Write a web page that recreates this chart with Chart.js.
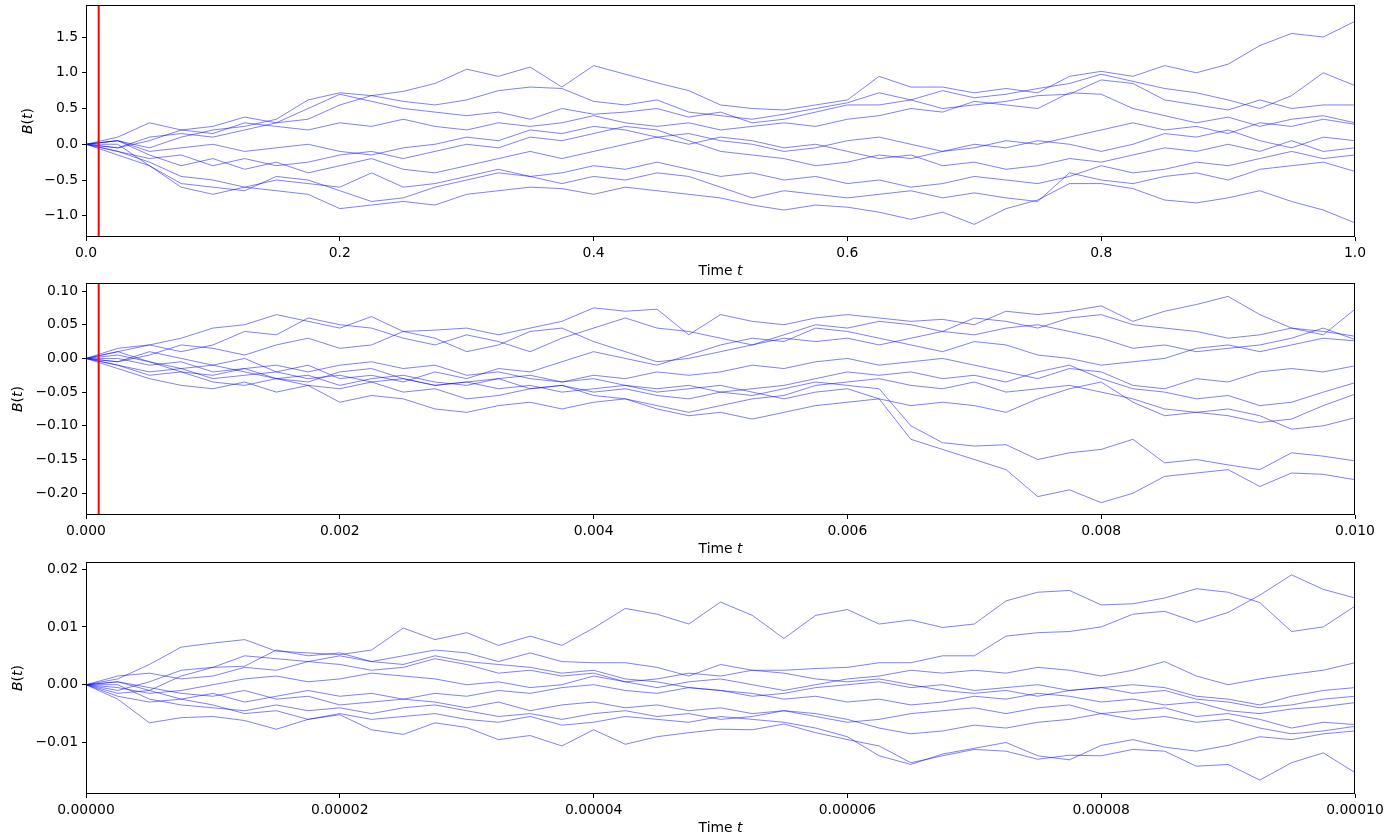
<!DOCTYPE html>
<html>
<head>
<meta charset="utf-8">
<script src="https://cdn.jsdelivr.net/npm/chart.js@4.4.1/dist/chart.umd.min.js"></script>
<style>
  html, body { margin: 0; padding: 0; background: #fff; }
  #wrap { position: relative; width: 1389px; height: 838px; overflow: hidden; }
  canvas { position: absolute; left: 0; }
</style>
</head>
<body>
<div id="wrap">
  <canvas id="c1" width="1389" height="278" style="top:0px"></canvas>
  <canvas id="c2" width="1389" height="278" style="top:278px"></canvas>
  <canvas id="c3" width="1389" height="282" style="top:556px"></canvas>
</div>
<script>
/* Brownian paths at three zoom levels: 0..1, 0..0.01, 0..0.0001 */

// sample positions as a fraction of each panel's time span
const T_FRAC = [0, 0.025, 0.05, 0.075, 0.1, 0.125, 0.15, 0.175, 0.2, 0.225, 0.25, 0.275, 0.3, 0.325, 0.35, 0.375, 0.4,
  0.425, 0.45, 0.475, 0.5, 0.525, 0.55, 0.575, 0.6, 0.625, 0.65, 0.675, 0.7, 0.725, 0.75, 0.775, 0.8, 0.825, 0.85,
  0.875, 0.9, 0.925, 0.95, 0.975, 1.0];

// panel 1: t in [0, 1]
const PATHS_1 = [
  [0, 0.05, -0.05, 0.1, 0.2, 0.25, 0.35, 0.62, 0.72, 0.68, 0.74, 0.85, 1.05, 0.95, 1.08, 0.8, 1.1, 0.98, 0.86, 0.75, 0.55, 0.5, 0.48, 0.55, 0.62, 0.95, 0.8, 0.8, 0.72, 0.78, 0.72, 0.95, 1.02, 0.95, 1.1, 1.0, 1.12, 1.38, 1.55, 1.5, 1.72],
  [0, -0.05, 0.1, 0.15, 0.1, 0.2, 0.3, 0.35, 0.55, 0.68, 0.6, 0.55, 0.62, 0.75, 0.8, 0.78, 0.6, 0.55, 0.62, 0.45, 0.4, 0.35, 0.42, 0.5, 0.58, 0.72, 0.62, 0.75, 0.65, 0.7, 0.78, 0.85, 0.98, 0.88, 0.78, 0.72, 0.62, 0.5, 0.68, 1.0, 0.82],
  [0, 0.1, 0.3, 0.2, 0.25, 0.38, 0.3, 0.5, 0.7, 0.6, 0.5, 0.45, 0.4, 0.45, 0.35, 0.5, 0.42, 0.45, 0.5, 0.38, 0.45, 0.3, 0.35, 0.45, 0.55, 0.55, 0.62, 0.5, 0.55, 0.6, 0.68, 0.7, 0.9, 0.85, 0.62, 0.55, 0.48, 0.62, 0.5, 0.55, 0.55],
  [0, -0.05, 0.05, 0.2, 0.15, 0.3, 0.25, 0.2, 0.3, 0.25, 0.35, 0.25, 0.2, 0.3, 0.25, 0.3, 0.4, 0.3, 0.25, 0.3, 0.2, 0.25, 0.3, 0.25, 0.35, 0.4, 0.5, 0.45, 0.6, 0.55, 0.5, 0.72, 0.7, 0.5, 0.4, 0.3, 0.38, 0.25, 0.35, 0.4, 0.3],
  [0, 0.05, -0.1, -0.05, 0, -0.1, -0.05, 0, -0.1, -0.15, -0.05, 0, 0.1, 0.05, 0.2, 0.15, 0.25, 0.2, 0.1, 0.15, 0.05, 0, -0.1, -0.05, 0.05, 0.1, 0, -0.1, -0.05, 0.05, 0, 0.1, 0.2, 0.3, 0.2, 0.25, 0.15, 0.3, 0.25, 0.35, 0.28],
  [0, -0.1, -0.2, -0.15, -0.3, -0.2, -0.3, -0.25, -0.15, -0.1, -0.2, -0.1, 0, -0.05, 0.1, 0.05, 0.15, 0.25, 0.2, 0.05, -0.1, -0.15, -0.2, -0.3, -0.25, -0.15, -0.2, -0.1, 0, -0.05, 0.05, 0, -0.1, 0, 0.15, 0.1, 0.2, 0.05, -0.05, 0.1, 0.05],
  [0, 0.05, -0.15, -0.3, -0.2, -0.35, -0.25, -0.4, -0.3, -0.2, -0.35, -0.4, -0.3, -0.2, -0.1, -0.2, -0.1, 0, 0.1, 0, 0.1, 0.05, -0.05, 0, -0.1, -0.2, -0.15, -0.3, -0.25, -0.35, -0.3, -0.2, -0.25, -0.15, -0.05, -0.1, 0, -0.1, 0.05, -0.1, -0.05],
  [0, -0.1, -0.25, -0.45, -0.5, -0.6, -0.5, -0.55, -0.6, -0.4, -0.6, -0.55, -0.45, -0.35, -0.45, -0.4, -0.3, -0.35, -0.25, -0.35, -0.45, -0.4, -0.5, -0.45, -0.55, -0.5, -0.6, -0.55, -0.45, -0.5, -0.55, -0.45, -0.3, -0.4, -0.35, -0.25, -0.3, -0.2, -0.1, -0.2, -0.15],
  [0, 0, -0.3, -0.55, -0.6, -0.65, -0.45, -0.5, -0.65, -0.8, -0.75, -0.6, -0.5, -0.4, -0.45, -0.55, -0.45, -0.5, -0.4, -0.45, -0.6, -0.75, -0.65, -0.7, -0.75, -0.7, -0.65, -0.75, -0.68, -0.75, -0.8, -0.4, -0.5, -0.55, -0.45, -0.4, -0.5, -0.35, -0.3, -0.25, -0.38],
  [0, -0.15, -0.3, -0.6, -0.7, -0.6, -0.65, -0.7, -0.9, -0.85, -0.8, -0.85, -0.7, -0.65, -0.6, -0.62, -0.7, -0.6, -0.65, -0.7, -0.75, -0.85, -0.92, -0.85, -0.88, -0.95, -1.05, -0.95, -1.12, -0.9, -0.78, -0.55, -0.55, -0.62, -0.78, -0.82, -0.75, -0.65, -0.8, -0.92, -1.1],
];

// panel 2: t in [0, 0.01]
const PATHS_2 = [
  [0, 0.01, 0.02, 0.03, 0.045, 0.05, 0.065, 0.055, 0.045, 0.062, 0.04, 0.042, 0.045, 0.035, 0.045, 0.055, 0.075, 0.07, 0.073, 0.035, 0.065, 0.055, 0.05, 0.06, 0.065, 0.06, 0.055, 0.058, 0.05, 0.07, 0.065, 0.07, 0.078, 0.055, 0.07, 0.08, 0.092, 0.065, 0.045, 0.035, 0.073],
  [0, 0.015, 0.02, 0.01, 0.02, 0.04, 0.035, 0.06, 0.05, 0.045, 0.03, 0.02, 0.035, 0.025, 0.01, 0.03, 0.045, 0.06, 0.045, 0.04, 0.03, 0.02, 0.035, 0.05, 0.045, 0.055, 0.05, 0.04, 0.06, 0.055, 0.045, 0.06, 0.065, 0.05, 0.045, 0.04, 0.03, 0.035, 0.045, 0.04, 0.033],
  [0, -0.005, 0.005, 0.02, 0.015, 0.005, 0.02, 0.03, 0.015, 0.02, 0.04, 0.03, 0.01, 0.02, 0.04, 0.045, 0.025, 0.01, -0.005, 0, 0.01, 0.02, 0.03, 0.025, 0.03, 0.02, 0.03, 0.04, 0.035, 0.045, 0.05, 0.04, 0.03, 0.015, 0.02, 0.01, 0.015, 0.02, 0.03, 0.045, 0.028],
  [0, 0.01, -0.005, -0.015, -0.01, 0, -0.02, -0.01, -0.03, -0.025, -0.035, -0.02, -0.03, -0.015, -0.02, -0.005, 0.01, 0, -0.01, 0.005, 0.02, 0.03, 0.025, 0.045, 0.04, 0.03, 0.02, 0.01, 0.025, 0.02, 0.005, 0, -0.01, -0.005, 0, 0.015, 0.02, 0.01, 0.02, 0.03, 0.026],
  [0, 0, -0.01, -0.005, -0.02, -0.015, -0.01, -0.02, -0.01, -0.005, -0.015, -0.01, -0.025, -0.02, -0.03, -0.035, -0.025, -0.03, -0.02, -0.025, -0.02, -0.01, -0.015, -0.005, 0, -0.01, -0.005, 0, -0.01, -0.02, -0.03, -0.015, -0.02, -0.04, -0.045, -0.03, -0.035, -0.02, -0.015, -0.02, -0.011],
  [0, -0.01, -0.02, -0.015, -0.03, -0.025, -0.02, -0.03, -0.025, -0.035, -0.03, -0.04, -0.035, -0.03, -0.045, -0.04, -0.05, -0.045, -0.055, -0.06, -0.05, -0.045, -0.04, -0.03, -0.02, -0.025, -0.02, -0.03, -0.025, -0.035, -0.02, -0.01, -0.03, -0.045, -0.05, -0.06, -0.055, -0.07, -0.065, -0.05, -0.036],
  [0, -0.005, 0.01, 0, -0.01, -0.02, -0.03, -0.04, -0.045, -0.035, -0.05, -0.045, -0.06, -0.055, -0.045, -0.04, -0.055, -0.06, -0.07, -0.08, -0.07, -0.06, -0.055, -0.04, -0.035, -0.03, -0.04, -0.045, -0.035, -0.05, -0.045, -0.04, -0.05, -0.06, -0.075, -0.08, -0.085, -0.095, -0.09, -0.07, -0.053],
  [0, -0.015, -0.03, -0.04, -0.045, -0.035, -0.05, -0.04, -0.065, -0.055, -0.06, -0.075, -0.08, -0.07, -0.065, -0.075, -0.065, -0.06, -0.075, -0.085, -0.08, -0.09, -0.08, -0.07, -0.065, -0.06, -0.07, -0.065, -0.07, -0.08, -0.06, -0.045, -0.035, -0.065, -0.085, -0.08, -0.075, -0.085, -0.105, -0.1, -0.088],
  [0, 0.005, -0.005, -0.02, -0.025, -0.015, -0.03, -0.025, -0.04, -0.03, -0.025, -0.035, -0.04, -0.03, -0.025, -0.035, -0.03, -0.04, -0.045, -0.04, -0.05, -0.055, -0.045, -0.035, -0.04, -0.045, -0.1, -0.125, -0.13, -0.128, -0.15, -0.14, -0.135, -0.12, -0.155, -0.15, -0.158, -0.165, -0.14, -0.145, -0.152],
  [0, -0.01, -0.025, -0.02, -0.035, -0.04, -0.03, -0.035, -0.02, -0.015, -0.03, -0.04, -0.035, -0.045, -0.04, -0.05, -0.045, -0.04, -0.05, -0.045, -0.04, -0.05, -0.06, -0.05, -0.045, -0.06, -0.12, -0.135, -0.15, -0.165, -0.205, -0.195, -0.214, -0.2, -0.175, -0.17, -0.165, -0.19, -0.17, -0.172, -0.18],
];

// panel 3: t in [0, 0.0001]
const PATHS_3 = [
  [0, 0.001, 0.0035, 0.0065, 0.0072, 0.0078, 0.0058, 0.0055, 0.0052, 0.006, 0.0098, 0.0078, 0.009, 0.0068, 0.0084, 0.0068, 0.0098, 0.0132, 0.0122, 0.0105, 0.0143, 0.012, 0.008, 0.012, 0.013, 0.0105, 0.0112, 0.0099, 0.0105, 0.0145, 0.016, 0.0163, 0.0138, 0.014, 0.015, 0.0166, 0.016, 0.0142, 0.0092, 0.01, 0.0136],
  [0, 0.0005, -0.001, 0.0015, 0.003, 0.0032, 0.006, 0.005, 0.0055, 0.004, 0.005, 0.006, 0.0055, 0.004, 0.0055, 0.004, 0.0038, 0.0038, 0.003, 0.0015, 0.0035, 0.0025, 0.0025, 0.0028, 0.003, 0.0038, 0.0038, 0.005, 0.005, 0.0084, 0.009, 0.0092, 0.01, 0.0122, 0.0127, 0.0108, 0.0125, 0.0155, 0.019, 0.0165, 0.015],
  [0, 0.0015, 0.002, 0.001, 0.0015, 0.003, 0.0025, 0.004, 0.0035, 0.0025, 0.003, 0.0045, 0.0035, 0.002, 0.0025, 0.0015, 0.002, 0.0005, -0.0005, 0.0005, 0.001, 0, -0.001, 0, 0.001, 0.0015, 0.0025, 0.002, 0.0025, 0.002, 0.003, 0.0025, 0.0015, 0.0025, 0.004, 0.0015, 0, 0.001, 0.0018, 0.0025, 0.0038],
  [0, -0.001, 0.0005, 0.0025, 0.003, 0.005, 0.0045, 0.004, 0.005, 0.004, 0.0035, 0.005, 0.004, 0.0035, 0.003, 0.002, 0.0025, 0.001, 0.0005, -0.0005, -0.001, -0.002, -0.0015, -0.0005, 0, 0.0005, -0.0005, 0, -0.001, -0.0005, 0, -0.001, -0.0005, 0, -0.0005, -0.002, -0.0025, -0.0035, -0.002, -0.001, -0.0005],
  [0, -0.0005, -0.0015, -0.001, 0, 0.001, 0.0015, 0.0005, 0.001, 0.002, 0.0015, 0.001, 0, 0.0005, -0.0005, 0, 0.0015, 0.0005, 0.001, 0.002, 0.0015, 0.0025, 0.002, 0.001, 0.0005, 0.001, 0, -0.001, -0.0015, -0.001, -0.002, -0.001, -0.0005, -0.0015, -0.001, -0.0025, -0.003, -0.004, -0.0035, -0.0025, -0.002],
  [0, 0.0005, -0.0005, -0.0015, -0.002, -0.001, -0.0025, -0.002, -0.0035, -0.003, -0.0025, -0.0015, -0.002, -0.001, -0.0015, -0.0005, 0, -0.001, -0.0015, -0.0005, -0.001, -0.0015, -0.0025, -0.002, -0.003, -0.0025, -0.0035, -0.003, -0.002, -0.0025, -0.0015, -0.002, -0.003, -0.0025, -0.0035, -0.003, -0.0045, -0.005, -0.0042, -0.0038, -0.0031],
  [0, -0.0015, -0.001, -0.0025, -0.0015, -0.003, -0.002, -0.001, -0.002, -0.0015, -0.0025, -0.003, -0.004, -0.003, -0.0045, -0.0035, -0.003, -0.004, -0.0035, -0.0045, -0.004, -0.005, -0.0045, -0.0055, -0.0065, -0.006, -0.005, -0.0045, -0.004, -0.005, -0.004, -0.0035, -0.005, -0.0045, -0.004, -0.0055, -0.005, -0.006, -0.0075, -0.0065, -0.0069],
  [0, 0, -0.0025, -0.0035, -0.004, -0.0045, -0.0035, -0.0045, -0.004, -0.005, -0.004, -0.0035, -0.0045, -0.0055, -0.005, -0.006, -0.005, -0.0045, -0.0055, -0.005, -0.006, -0.0055, -0.0045, -0.005, -0.006, -0.0075, -0.0085, -0.008, -0.007, -0.0075, -0.0065, -0.006, -0.005, -0.006, -0.0055, -0.0065, -0.006, -0.0075, -0.0085, -0.008, -0.0072],
  [0, -0.002, -0.003, -0.0025, -0.0035, -0.005, -0.0045, -0.006, -0.005, -0.006, -0.0055, -0.005, -0.006, -0.0065, -0.0055, -0.007, -0.0065, -0.0055, -0.006, -0.0065, -0.0055, -0.006, -0.0065, -0.0075, -0.009, -0.0123, -0.0138, -0.012, -0.011, -0.01, -0.0123, -0.013, -0.0105, -0.0095, -0.0108, -0.0115, -0.0105, -0.009, -0.0095, -0.0085, -0.008],
  [0, -0.0025, -0.0066, -0.0057, -0.0055, -0.0062, -0.0077, -0.006, -0.0052, -0.0078, -0.0086, -0.0066, -0.0074, -0.0095, -0.0088, -0.0106, -0.0078, -0.0103, -0.009, -0.0083, -0.0077, -0.0078, -0.0068, -0.0083, -0.0095, -0.0106, -0.0135, -0.0123, -0.0112, -0.0115, -0.0129, -0.0122, -0.0123, -0.0112, -0.0115, -0.0141, -0.0138, -0.0165, -0.0135, -0.0118, -0.0152],
];

const SPANS = [1.0, 0.01, 0.0001];
const Y_RANGES = [[-1.297, 1.948], [-0.2323, 0.1119], [-0.01891, 0.02123]];
const MARKERS = [0.01, 0.0001, null];     // red line = span of the next panel

const X_TICKS = [
  [0, 0.2, 0.4, 0.6, 0.8, 1.0],
  [0, 0.002, 0.004, 0.006, 0.008, 0.010],
  [0, 0.00002, 0.00004, 0.00006, 0.00008, 0.0001],
];
const X_LABELS = [
  ["0.0", "0.2", "0.4", "0.6", "0.8", "1.0"],
  ["0.000", "0.002", "0.004", "0.006", "0.008", "0.010"],
  ["0.00000", "0.00002", "0.00004", "0.00006", "0.00008", "0.00010"],
];
const Y_TICKS = [
  [-1.0, -0.5, 0, 0.5, 1.0, 1.5],
  [-0.20, -0.15, -0.10, -0.05, 0, 0.05, 0.10],
  [-0.01, 0, 0.01, 0.02],
];
const Y_LABELS = [
  ["\u22121.0", "\u22120.5", "0.0", "0.5", "1.0", "1.5"],
  ["\u22120.20", "\u22120.15", "\u22120.10", "\u22120.05", "0.00", "0.05", "0.10"],
  ["\u22120.01", "0.00", "0.01", "0.02"],
];

const FONT_FAMILY = '"DejaVu Sans", "Liberation Sans", sans-serif';
const FONT_PX = 13.9;
const PLOT_H = 232;
const LAYOUT = [            // canvas id, canvas height, top padding, y-title x
  { id: "c1", h: 278, top: 5, yTitleX: 28 },
  { id: "c2", h: 278, top: 5, yTitleX: 18 },
  { id: "c3", h: 282, top: 6, yTitleX: 18 },
];

// draws mixed upright/italic text centred on (cx, cy)
function drawPieces(ctx, pieces, cx, cy) {
  const fontFor = (it) => `${it ? "italic " : ""}${FONT_PX}px ${FONT_FAMILY}`;
  let total = 0;
  pieces.forEach(([s, it]) => { ctx.font = fontFor(it); total += ctx.measureText(s).width; });
  let x = cx - total / 2;
  ctx.textBaseline = "middle";
  ctx.textAlign = "left";
  pieces.forEach(([s, it]) => { ctx.font = fontFor(it); ctx.fillText(s, x, cy); x += ctx.measureText(s).width; });
}

const panelDeco = {
  id: "panelDeco",
  afterDatasetsDraw(chart, args, o) {
    if (o.marker == null) return;
    const { ctx, chartArea: a } = chart;
    const px = chart.scales.x.getPixelForValue(o.marker);
    ctx.save();
    ctx.strokeStyle = "#ff0000";
    ctx.lineWidth = 2;
    ctx.beginPath(); ctx.moveTo(px, a.top); ctx.lineTo(px, a.bottom); ctx.stroke();
    ctx.restore();
  },
  afterDraw(chart, args, o) {
    const { ctx, chartArea: a } = chart;
    ctx.save();
    ctx.strokeStyle = "#000";
    ctx.lineWidth = 1;
    ctx.strokeRect(a.left + 0.5, a.top + 0.5, a.right - a.left - 1, a.bottom - a.top - 1);
    ctx.fillStyle = "#000";
    drawPieces(ctx, [["Time ", false], ["t", true]], (a.left + a.right) / 2, a.bottom + 34);
    ctx.translate(o.yTitleX, (a.top + a.bottom) / 2);
    ctx.rotate(-Math.PI / 2);
    drawPieces(ctx, [["B", true], ["(", false], ["t", true], [")", false]], 0, 0);
    ctx.restore();
  },
};

// stop label overhang from pushing the plot area around
function noPad(s) { s.paddingTop = 0; s.paddingBottom = 0; s.paddingLeft = 0; s.paddingRight = 0; }

function makePanel(k, paths) {
  const L = LAYOUT[k];
  const span = SPANS[k];
  const tickFont = { family: FONT_FAMILY, size: FONT_PX };
  const datasets = paths.map((p) => ({
    data: p.map((v, i) => ({ x: T_FRAC[i] * span, y: v })),
    borderColor: "rgba(0,0,255,0.5)",
    borderWidth: 1,
    pointRadius: 0,
    fill: false,
    tension: 0,
  }));
  return new Chart(document.getElementById(L.id), {
    type: "line",
    data: { datasets },
    plugins: [panelDeco],
    options: {
      responsive: false,
      animation: false,
      devicePixelRatio: 1,
      events: [],
      layout: { padding: { left: 0, right: 34, top: L.top, bottom: 0 } },
      plugins: {
        legend: { display: false },
        tooltip: { enabled: false },
        panelDeco: { marker: MARKERS[k], yTitleX: L.yTitleX },
      },
      scales: {
        x: {
          type: "linear", min: 0, max: span,
          afterBuildTicks: (s) => { s.ticks = X_TICKS[k].map((v) => ({ value: v })); },
          afterFit: (s) => { s.height = L.h - L.top - PLOT_H; noPad(s); },
          ticks: { callback: (v, i) => X_LABELS[k][i], color: "#000", font: tickFont, padding: 4, maxRotation: 0, autoSkip: false },
          grid: { drawOnChartArea: false, drawTicks: true, tickLength: 4, color: "#000", tickWidth: 1 },
          border: { display: false },
        },
        y: {
          type: "linear", min: Y_RANGES[k][0], max: Y_RANGES[k][1],
          afterBuildTicks: (s) => { s.ticks = Y_TICKS[k].map((v) => ({ value: v })); },
          afterFit: (s) => { s.width = 86; noPad(s); },
          ticks: { callback: (v, i) => Y_LABELS[k][i], color: "#000", font: tickFont, padding: 4, autoSkip: false },
          grid: { drawOnChartArea: false, drawTicks: true, tickLength: 4, color: "#000", tickWidth: 1 },
          border: { display: false },
        },
      },
    },
  });
}

makePanel(0, PATHS_1);
makePanel(1, PATHS_2);
makePanel(2, PATHS_3);
</script>
</body>
</html>
